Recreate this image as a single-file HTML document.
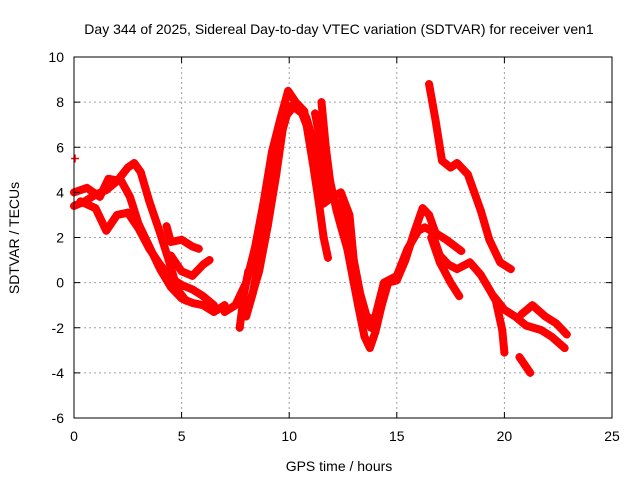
<!DOCTYPE html>
<html><head><meta charset="utf-8"><style>
body{margin:0;background:#fff}
svg text{font-family:"Liberation Sans",sans-serif;font-size:14px;fill:#000}
</style></head><body>
<svg id="chart" width="640" height="480" xmlns="http://www.w3.org/2000/svg">
<text x="339" y="34" text-anchor="middle">Day 344 of 2025, Sidereal Day-to-day VTEC variation (SDTVAR) for receiver ven1</text>
<text x="339" y="471" text-anchor="middle">GPS time / hours</text>
<text x="19" y="238" text-anchor="middle" transform="rotate(-90 19 238)">SDTVAR / TECUs</text>
<g id="grid"></g><g id="marks"></g><g id="axes"></g>
</svg>
<script>
const xTicks=[0,5,10,15,20,25];
const yTicks=[-6,-4,-2,0,2,4,6,8,10];
const tr1=[[0,3.4],[0.5,3.6],[1,3.9],[1.5,4.1],[2,4.5],[2.5,5.1],[2.8,5.3],[3.1,4.9],[3.5,3.6],[4,2.2],[4.4,1.0],[4.8,-0.3],[5.2,-0.8]];
const tr2=[[0,4.0],[0.6,4.2],[1.2,3.8],[1.6,4.6],[2.2,4.5],[2.6,3.8],[3.0,2.6],[3.5,1.6],[4.0,0.6],[4.5,-0.2],[5,-0.7],[5.5,-0.9],[6,-1.0],[6.5,-1.3],[7,-1.0]];
const tr3=[[0.3,3.6],[1,3.3],[1.5,2.3],[2.0,3.0],[2.5,3.1],[3,2.4],[3.5,1.5],[4,0.8],[4.5,0.2],[5,-0.1],[5.5,-0.3],[6,-0.6],[6.5,-1.0]];
const tr4=[[4.3,2.5],[4.5,1.8],[5,1.9],[5.5,1.6],[5.8,1.5]];
const tr5=[[4.5,1.2],[5,0.5],[5.5,0.3],[6,0.8],[6.3,1.0]];
const tr6=[[7,-1.3],[7.5,-1.0],[8,0],[8.4,1.5],[8.8,3.5],[9.2,5.8],[9.6,7.3],[9.95,8.5],[10.3,8.0],[10.7,7.6],[11.1,5.3],[11.4,3.4],[11.6,2.0],[11.8,1.1]];
const tr7=[[8.0,-1.5],[8.3,-0.5],[8.6,1],[9,3.5],[9.3,5.5],[9.7,7.2],[10.2,7.8],[10.6,7.5],[11,6.5],[11.3,5],[11.6,3.5],[12,3.8],[12.4,4.0],[12.8,3],[13,1],[13.3,-0.5],[13.6,-1.5],[14,-1.7],[14.3,-0.8]];
const tr8=[[11.5,8.0],[11.7,6],[11.9,4.5],[12.2,3.2],[12.4,2.5],[12.7,1.5],[13,0],[13.2,-1],[13.5,-2.4],[13.75,-2.9],[14,-2.2],[14.3,-1],[14.6,0],[15,0.1],[15.4,1],[15.8,2.2],[16.2,3.3],[16.5,3.0],[16.8,2.2],[17.3,1.9],[18,1.4]];
const tr9=[[14,-1.5],[14.4,0],[15,0.3],[15.5,1.5],[16,2.3],[16.3,2.45],[16.6,2.3],[17,1.2],[17.4,0.8],[17.8,0.6],[18.4,0.9],[18.9,0.35],[19.3,-0.3],[19.6,-0.8],[19.9,-2.1],[20,-3.1]];
const tr10=[[16.6,2.0],[17,0.9],[17.5,0],[17.9,-0.6]];
const tr11=[[16.5,8.8],[16.8,7.2],[17.1,5.4],[17.5,5.1],[17.8,5.3],[18.3,4.8],[18.9,3.2],[19.3,1.9],[19.8,0.9],[20.3,0.6]];
const tr12=[[19.5,-0.6],[20,-1.2],[20.5,-1.5],[21,-1.9],[21.7,-2.1],[22.2,-2.4],[22.8,-2.9]];
const tr13=[[20.8,-1.4],[21.3,-1.0],[21.9,-1.5],[22.4,-1.8],[22.9,-2.3]];
const tr14=[[20.7,-3.3],[21.2,-4.0]];
const tr15=[[7.7,-2.0],[7.9,-0.5],[8.1,0.5]];
const tr16=[[0.05,5.5]];
const tr17=[[8.2,-0.8],[8.6,0.5],[9,2.5],[9.4,4.8],[9.7,6.8],[10,7.8],[10.4,7.9],[10.8,7.3],[11.2,6],[11.5,4.5]];
const tr18=[[11.2,7.5],[11.4,6.5],[11.6,5.5],[11.8,4],[12.1,3.6],[12.5,3.5],[12.8,2],[13.1,0],[13.4,-1.2],[13.8,-2.0]];
const traces=[tr1,tr2,tr3,tr4,tr5,tr6,tr7,tr8,tr9,tr10,tr11,tr12,tr13,tr14,tr15,tr16,tr17,tr18];

const X0=74,X1=612,Y0=418,Y1=57;
const sx=t=>X0+(t-0)/(25-0)*(X1-X0);
const sy=v=>Y0-(v+6)/(10+6)*(Y0-Y1);
const NS="http://www.w3.org/2000/svg";
const grid=document.getElementById('grid'),marks=document.getElementById('marks'),axes=document.getElementById('axes');
function mk(tag,parent,attrs){const e=document.createElementNS(NS,tag);for(const k in attrs)e.setAttribute(k,attrs[k]);parent.appendChild(e);return e;}
xTicks.forEach(t=>{
 const x=sx(t);
 if(t>0&&t<25){const g=mk('line',grid,{x1:x,x2:x,y1:Y1,y2:Y0,stroke:'#a0a0a0','stroke-dasharray':'2,3'});
 
 }
 const l=mk('text',axes,{x:x,y:Y0+23,'text-anchor':'middle'});l.textContent=t;
 
 
 mk('line',axes,{x1:x,x2:x,y1:Y0,y2:Y0-6,stroke:'#000'});
 mk('line',axes,{x1:x,x2:x,y1:Y1,y2:Y1+6,stroke:'#000'});
});
yTicks.forEach(v=>{
 const y=sy(v);
 if(v>-6&&v<10){const g=mk('line',grid,{x1:X0,x2:X1,y1:y,y2:y,stroke:'#a0a0a0','stroke-dasharray':'2,3'});
 
 }
 const l=mk('text',axes,{x:X0-10,y:y+5,'text-anchor':'end'});l.textContent=v;
 
 
 mk('line',axes,{x1:X0,x2:X0+6,y1:y,y2:y,stroke:'#000'});
 mk('line',axes,{x1:X1,x2:X1-6,y1:y,y2:y,stroke:'#000'});
});
const b=mk('rect',axes,{x:X0,y:Y1,width:X1-X0,height:Y0-Y1,fill:'none',stroke:'#000'});


traces.forEach(tr=>{
 const pts=tr.map(p=>sx(p[0])+','+sy(p[1])).join(' ');
 const pl=mk('polyline',marks,{points:pts,fill:'none',stroke:'#ff0000','stroke-width':8,'stroke-linejoin':'round','stroke-linecap':'round'});
 
 
 tr.forEach(p=>{
  const x=sx(p[0]),y=sy(p[1]);
  const m=mk('path',marks,{d:`M${x-4},${y}h8M${x},${y-4}v8`,stroke:'#ff0000','stroke-width':1.5});
  
  
 });
});
</script>
</body></html>
